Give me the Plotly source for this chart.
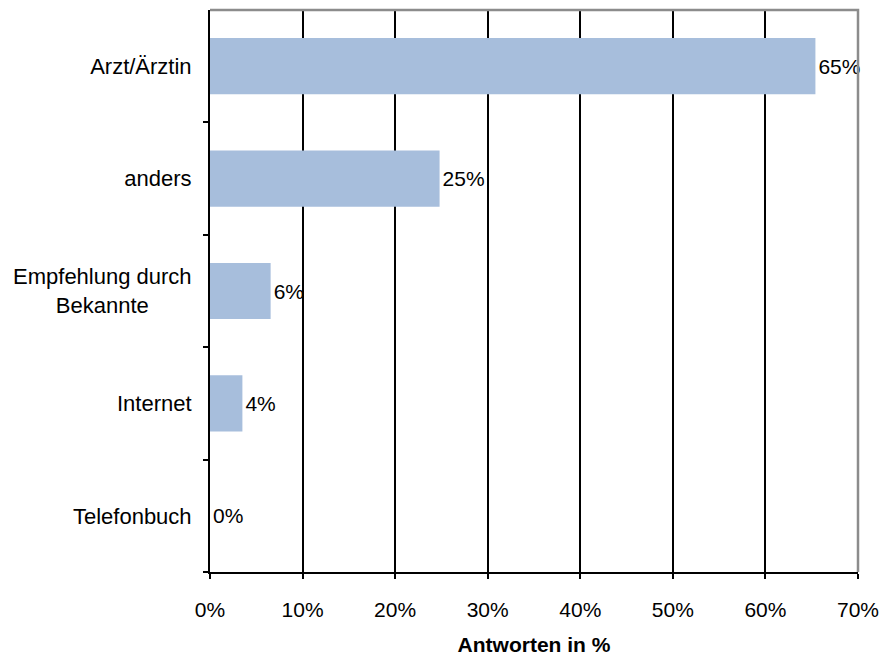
import plotly.graph_objects as go

categories = ["Arzt/Ärztin", "anders", "Empfehlung durch Bekannte", "Internet", "Telefonbuch"]
tick_labels = ["Arzt/Ärztin", "anders", "Empfehlung durch<br>Bekannte\u00a0\u00a0\u00a0\u00a0\u00a0\u00a0\u00a0", "Internet", "Telefonbuch"]
values = [65.4, 24.8, 6.55, 3.5, 0.0]
value_labels = ["65%", "25%", "6%", "4%", "0%"]
x_ticks = [0, 10, 20, 30, 40, 50, 60, 70]
x_tick_labels = [f"{v}%" for v in x_ticks]

FONT = "Liberation Sans, Arial, sans-serif"
FS = 21

fig = go.Figure()
fig.add_trace(go.Bar(
    y=categories, x=values, orientation="h",
    marker=dict(color="#A7BEDC", line=dict(width=0)),
    width=0.5,
    text=value_labels, textposition="outside",
    textfont=dict(family=FONT, size=FS, color="#000000"),
    cliponaxis=False,
))

fig.update_layout(
    width=887, height=658,
    margin=dict(l=202, r=37, t=2, b=94, autoexpand=False),
    paper_bgcolor="white", plot_bgcolor="white",
    showlegend=False,
    font=dict(family=FONT, size=FS, color="#000000"),
    xaxis=dict(
        range=[0, 70], tickvals=x_ticks, ticktext=x_tick_labels,
        showgrid=True, gridcolor="#000000", gridwidth=1.5,
        showline=True, linecolor="#000000", linewidth=2,
        ticks="outside", ticklen=5, tickcolor="#000000", tickwidth=1.5,
        ticklabelstandoff=13, zeroline=False,
        title=dict(text="<b>Antworten in %</b>", font=dict(family=FONT, size=21), standoff=17),
        tickfont=dict(family=FONT, size=FS),
    ),
    yaxis=dict(
        categoryorder="array", categoryarray=categories[::-1],
        tickvals=categories, ticktext=tick_labels,
        showline=True, linecolor="#000000", linewidth=2,
        ticks="outside", tickson="boundaries", ticklen=5, tickcolor="#000000", tickwidth=1.5,
        showgrid=False, ticklabelstandoff=12,
        tickfont=dict(family=FONT, size=22),
    ),
    shapes=[dict(type="path", xref="paper", yref="paper",
                 path="M 0 1 L 1 1 L 1 0", line=dict(color="#8c8c8c", width=2.5),
                 layer="above")],
)

fig.write_html("out.html")
